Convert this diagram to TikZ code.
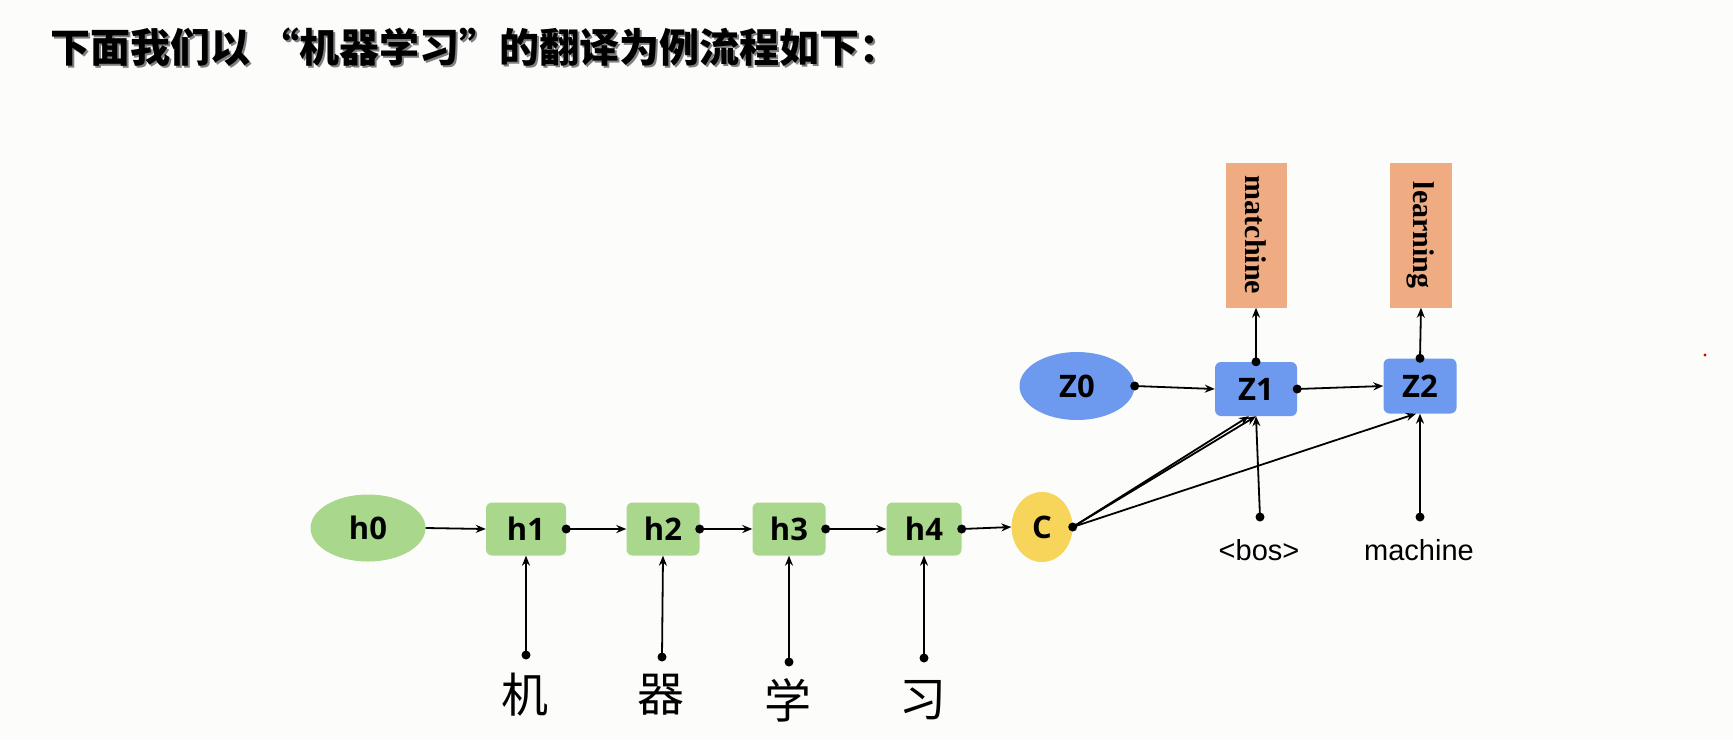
\documentclass[tikz,border=0pt]{standalone}
\usepackage{fontspec}
\setmainfont{Liberation Serif}
\newfontfamily\cjk{Noto Sans CJK SC}
\newfontfamily\labfont{Open Sans}
\newfontfamily\arialfont{Liberation Sans}
\usetikzlibrary{arrows.meta,shapes.geometric}
\definecolor{hgreen}{HTML}{A9D78C}
\definecolor{zblue}{HTML}{6D99EE}
\definecolor{cyellow}{HTML}{F6D55A}
\definecolor{oorange}{HTML}{EFAC83}
\definecolor{bgc}{HTML}{FCFDFB}
\begin{document}
\begin{tikzpicture}[x=1pt,y=-1pt,
  nodelab/.style={font=\labfont\bfseries\fontsize{31}{34}\selectfont, text=black, inner sep=0pt},
  hbox/.style={nodelab, rectangle, rounded corners=6pt, fill=hgreen, minimum height=53pt},
  zbox/.style={nodelab, rectangle, rounded corners=6pt, fill=zblue, minimum height=54pt},
  ell/.style={nodelab, ellipse, minimum width=115pt, minimum height=67pt},
  outbox/.style={rectangle, fill=oorange, minimum width=61pt, minimum height=145pt, inner sep=0pt},
  outtext/.style={font=\bfseries\fontsize{30}{32}\selectfont, rotate=-90},
  conn/.style={line width=1.8pt, -{Stealth[length=10pt,width=8pt]}},
  cjkchar/.style={font=\cjk\fontsize{47}{50}\selectfont, inner sep=0pt},
  inword/.style={font=\arialfont\fontsize{29}{32}\selectfont, inner sep=0pt},
  dotr/.style={fill=black}
]
\useasboundingbox (0,0) rectangle (1733,740);
\fill[bgc] (0,0) rectangle (1733,740);

% title with shadow
\node[anchor=west, inner sep=0pt, text=black!50, font=\cjk\bfseries\fontsize{40}{42}\selectfont] (titleshadow) at (52.5,49.5) {下面我们以 “机器学习”的翻译为例流程如下：};
\node[anchor=west, inner sep=0pt, text=black, font=\cjk\bfseries\fontsize{40}{42}\selectfont] (title) at (50,47) {下面我们以 “机器学习”的翻译为例流程如下：};

% encoder
\node[ell, fill=hgreen] (h0) at (368,528) {h0};
\node[hbox, minimum width=80pt] (h1) at (526,529) {h1};
\node[hbox, minimum width=73pt] (h2) at (663,529) {h2};
\node[hbox, minimum width=73pt] (h3) at (789,529) {h3};
\node[hbox, minimum width=75pt] (h4) at (924,529) {h4};
\node[ell, fill=cyellow, minimum width=61pt, minimum height=70pt] (C) at (1042,527) {C};

% decoder
\node[ell, fill=zblue, minimum height=68pt] (Z0) at (1077,386) {Z0};
\node[zbox, minimum width=82pt] (Z1) at (1256,389) {Z1};
\node[zbox, minimum width=73pt, minimum height=55pt] (Z2) at (1420,386) {Z2};
\node[outbox] (o1) at (1256,235) {};
\node[outtext] (o1t) at (o1.center) {matchine};
\node[outbox, minimum width=62pt] (o2) at (1421,235) {};
\node[outtext] (o2t) at (o2.center) {learning};

% inputs
\node[cjkchar] (c1) at (525,695) {机};
\node[cjkchar] (c2) at (661,695) {器};
\node[cjkchar] (c3) at (788,700) {学};
\node[cjkchar] (c4) at (923,700) {习};
\coordinate (d1) at (526,655);
\coordinate (d2) at (662,657);
\coordinate (d3) at (789,662);
\coordinate (d4) at (924,658);
\node[inword] (bos) at (1259,550) {<bos>};
\node[inword] (mach) at (1419,550) {machine};
\coordinate (db) at (1260,517);
\coordinate (dm) at (1420,517);

% horizontal connectors
\draw[conn] (h0.east) -- (h1.west);
\draw[conn] (h1.east) -- (h2.west);
\draw[conn] (h2.east) -- (h3.west);
\draw[conn] (h3.east) -- (h4.west);
\draw[conn] (h4.east) -- (C.west);
\draw[conn] (Z0.east) -- (Z1.west);
\draw[conn] (Z1.east) -- (Z2.west);
\foreach \n in {h1,h2,h3,h4,C,Z0,Z1}{\fill[dotr] (\n.east) circle (4.5pt);}

% vertical connectors
\draw[conn] (d1) -- (h1.south);
\draw[conn] (d2) -- (h2.south);
\draw[conn] (d3) -- (h3.south);
\draw[conn] (d4) -- (h4.south);
\foreach \d in {d1,d2,d3,d4,db,dm}{\fill[dotr] (\d) circle (4.5pt);}
\draw[conn] (db) -- (Z1.south);
\draw[conn] (dm) -- (Z2.south);
\draw[conn] (Z1.north) -- (o1.south);
\draw[conn] (Z2.north) -- (o2.south);
\fill[dotr] (Z1.north) circle (4.5pt);
\fill[dotr] (Z2.north) circle (4.5pt);

% context connectors
\draw[conn] (C.east) -- ([xshift=-7pt]Z1.south);
\draw[conn] (C.east) -- (Z1.south);
\draw[conn] (C.east) -- ([xshift=-4pt]Z2.south);

% small red mark
\fill[red!85!black] (1705,355) circle (1.6pt);
\end{tikzpicture}
\end{document}
